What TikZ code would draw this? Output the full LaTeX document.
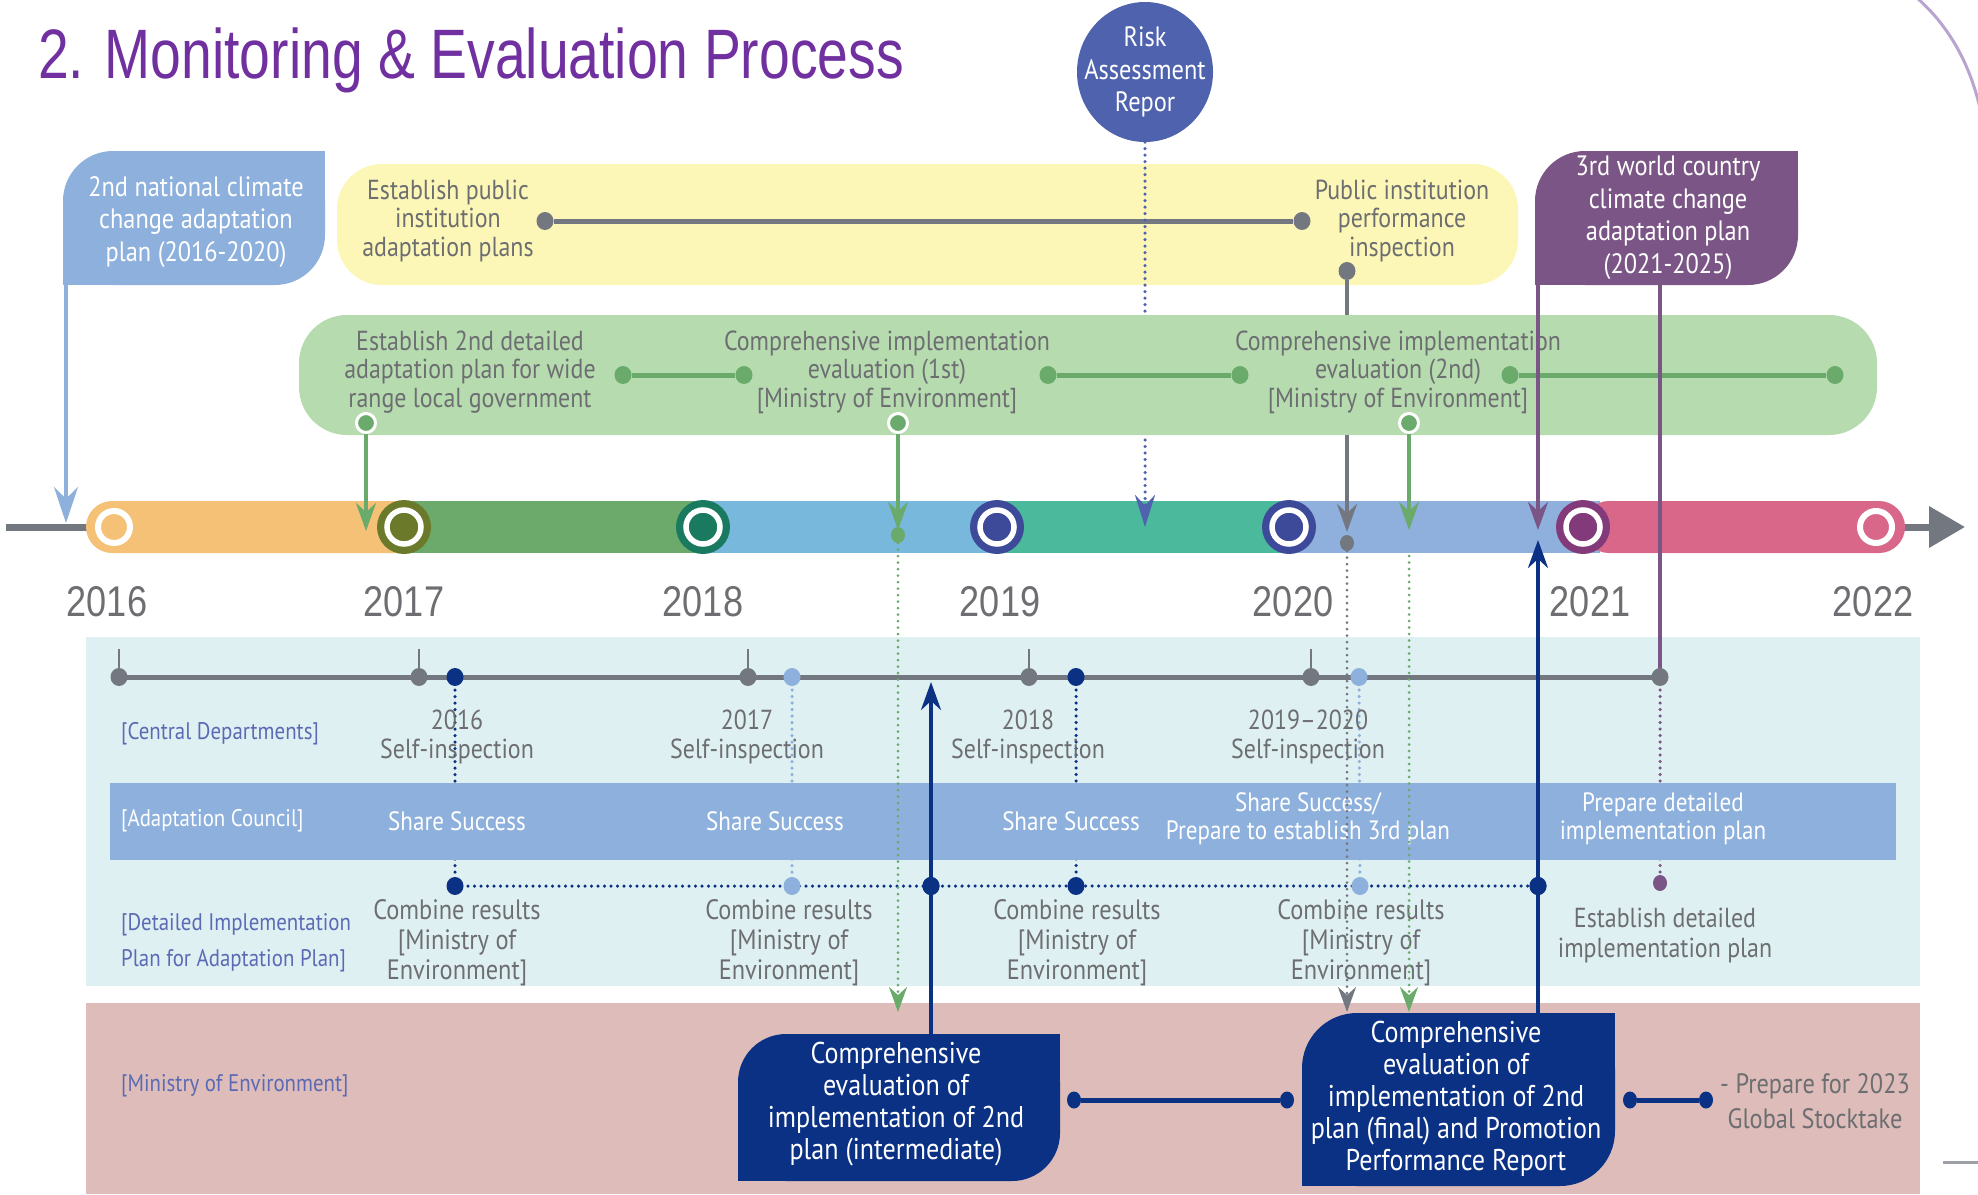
\documentclass[tikz,border=0pt]{standalone}
\usepackage{fontspec}
\setmainfont[FakeStretch=0.87]{PT Sans}
\newfontfamily\titlefont[FakeStretch=0.79]{Liberation Sans}
\newfontfamily\yearfont[FakeStretch=0.84]{Liberation Sans}
\usetikzlibrary{arrows.meta,shapes.geometric,calc}
\definecolor{titlepurple}{RGB}{112,48,160}
\definecolor{tabblue}{RGB}{141,176,220}
\definecolor{yellowbg}{RGB}{252,247,182}
\definecolor{greenbg}{RGB}{182,219,175}
\definecolor{greenline}{RGB}{106,170,106}
\definecolor{graytxt}{RGB}{109,110,113}
\definecolor{grayline}{RGB}{115,120,128}
\definecolor{riskblue}{RGB}{79,98,174}
\definecolor{purpletab}{RGB}{123,85,133}
\definecolor{navy}{RGB}{10,49,132}
\definecolor{lightband}{RGB}{223,240,243}
\definecolor{pinkband}{RGB}{221,188,185}
\definecolor{councilblue}{RGB}{141,176,220}
\definecolor{labelblue}{RGB}{91,106,180}
\definecolor{segorange}{RGB}{245,193,118}
\definecolor{seggreen}{RGB}{107,170,107}
\definecolor{seglblue}{RGB}{120,184,221}
\definecolor{segteal}{RGB}{75,186,156}
\definecolor{segperi}{RGB}{143,176,220}
\definecolor{segpink}{RGB}{217,103,138}
\definecolor{ringolive}{RGB}{107,122,42}
\definecolor{ringteal}{RGB}{26,122,96}
\definecolor{ringnavy}{RGB}{61,74,154}
\definecolor{ringpurple}{RGB}{131,58,122}
\definecolor{arcpurple}{RGB}{185,164,207}
\newcommand{\halfround}[6]{%
  \fill[#1, rounded corners=#6] (#2,#3) rectangle (#4,#5);
  \fill[#1] ({#4-#6},#3) rectangle (#4,{#3+#6});
  \fill[#1] (#2,{#5-#6}) rectangle ({#2+#6},#5);
}
\tikzset{
  body/.style={text=graytxt, align=center, inner sep=0pt, font=\fontsize{27.5}{28.5}\selectfont},
  lab/.style={text=labelblue, align=left, anchor=west, inner sep=0pt, font=\fontsize{24}{36}\selectfont},
  wtxt/.style={text=white, align=center, inner sep=0pt, font=\fontsize{28}{32.5}\selectfont},
  boxtxt/.style={text=white, align=center, inner sep=0pt, font=\fontsize{30}{32}\selectfont},
  counciltxt/.style={text=white, align=center, inner sep=0pt, font=\fontsize{26.5}{28}\selectfont},
  yearlab/.style={text=graytxt, inner sep=0pt, font=\yearfont\fontsize{43}{43}\selectfont},
  gdot/.style={ellipse, fill=#1, minimum width=17pt, minimum height=18pt, inner sep=0pt},
  ringmark/.style={circle, fill=greenline, draw=white, line width=3pt, minimum size=19pt, inner sep=0pt},
  dotline/.style={dash pattern=on 0pt off 6.5pt, line cap=round},
  bigtip/.style={-{Stealth[length=28pt,width=20pt]}},
  smalltip/.style={-{Stealth[length=25pt,width=18pt]}},
}
\begin{document}
\begin{tikzpicture}[x=1pt,y=-1pt]
\useasboundingbox (0,0) rectangle (1978,1194);
% ---------- bands ----------
\fill[lightband] (86,637) rectangle (1920,986);
\fill[pinkband] (86,1003) rectangle (1920,1194);
% coordinates of rows
\coordinate (c1) at (119,677); \coordinate (c2) at (419,677); \coordinate (c3) at (748,677);
\coordinate (c4) at (1029,677); \coordinate (c5) at (1311,677); \coordinate (c6) at (1660,677);
\coordinate (n1) at (455,677); \coordinate (n2) at (1076,677);
\coordinate (l1) at (792,677); \coordinate (l2) at (1359,677);
\coordinate (m1) at (455,886); \coordinate (m2) at (792,886); \coordinate (m3) at (931,886);
\coordinate (m4) at (1076,886); \coordinate (m5) at (1360,886); \coordinate (m6) at (1538,886);
\coordinate (mp) at (1660,883);
% dotted verticals (under council band)
\draw[navy, line width=3.5, dotline] (n1) -- (m1);
\draw[navy, line width=3.5, dotline] (n2) -- (m4);
\draw[tabblue, line width=3.5, dotline] (l1) -- (m2);
\draw[tabblue, line width=3.5, dotline] (l2) -- (m5);
\draw[purpletab, line width=3.5, dotline] (c6) -- (mp);
% council band
\fill[councilblue] (110,783) rectangle (1896,860);
% ---------- title ----------
\node[anchor=base west, inner sep=0pt, text=titlepurple, font=\titlefont\fontsize{70}{70}\selectfont] (title) at (38,78) {2. Monitoring \& Evaluation Process};
\draw[arcpurple, line width=3] (1917,-2) .. controls (1948,25) and (1972,65) .. (1982,118);
\draw[grayline!70, line width=3] (1943,1162) -- (1978,1162);
% ---------- yellow box ----------
\fill[yellowbg, rounded corners=45] (337,164) rectangle (1518,285);
\node[body] (ytxt1) at (448,221) {Establish public\\institution\\adaptation plans};
\node[body] (ytxt2) at (1402,221) {Public institution\\performance\\inspection};
\node[gdot=grayline] (yd1) at (545,221) {};
\node[gdot=grayline] (yd2) at (1302,221) {};
\draw[grayline, line width=5] (yd1) -- (yd2);
\node[gdot=grayline] (yd3) at (1347,271) {};
% ---------- risk ----------
\node[ellipse, fill=riskblue, minimum width=136pt, minimum height=140pt, inner sep=0pt] (risk) at (1145,72) {};
\node[wtxt] (risktxt) at (risk.center) {Risk\\Assessment\\Repor};
\coordinate (rk1) at (1145,318); \coordinate (rk2) at (1145,440); \coordinate (rkTip) at (1145,527);
\draw[riskblue, line width=3.5, dotline] (risk.south) -- (rk1);
\coordinate (gA) at (1347,318); \coordinate (gB) at (1347,435); \coordinate (gTip) at (1347,532);
\draw[grayline, line width=3.5] (yd3) -- (gA);
% ---------- green box ----------
\fill[greenbg, rounded corners=48] (299,315) rectangle (1877,435);
\node[body] (gt1) at (470,372) {Establish 2nd detailed\\adaptation plan for wide\\range local government};
\node[body] (gt2) at (887,372) {Comprehensive implementation\\evaluation (1st)\\{[Ministry of Environment]}};
\node[body] (gt3) at (1398,372) {Comprehensive implementation\\evaluation (2nd)\\{[Ministry of Environment]}};
\node[gdot=greenline] (gl1) at (623,375) {}; \node[gdot=greenline] (gl2) at (744,375) {};
\node[gdot=greenline] (gl3) at (1048,375) {}; \node[gdot=greenline] (gl4) at (1240,375) {};
\node[gdot=greenline] (gl5) at (1510,375) {}; \node[gdot=greenline] (gl6) at (1835,375) {};
\draw[greenline, line width=5] (gl1) -- (gl2);
\draw[greenline, line width=5] (gl3) -- (gl4);
\draw[greenline, line width=5] (gl5) -- (gl6);
\node[ringmark] (gm1) at (366,423) {};
\node[ringmark] (gm2) at (898,423) {};
\node[ringmark] (gm3) at (1409,423) {};
% ---------- tabs ----------
\halfround{tabblue}{63}{151}{325}{285}{50}
\node[wtxt] (tab1) at (196,222) {2nd national climate\\change adaptation\\plan (2016-2020)};
\halfround{purpletab}{1535}{151}{1798}{285}{50}
\node[wtxt] (tab2) at (1668,218) {3rd world country\\climate change\\adaptation plan\\(2021-2025)};
% ---------- timeline ----------
\coordinate (tl0) at (6,527); \coordinate (tlS) at (88,527);
\coordinate (tlE) at (1900,527); \coordinate (tlA) at (1965,527);
\draw[grayline, line width=7] (tl0) -- (tlS);
\draw[grayline, line width=7, -{Triangle[length=36pt,width=40pt]}] (tlE) -- (tlA);
\fill[segorange, rounded corners=26] (86,501) rectangle (440,553);
\fill[seggreen] (404,501) rectangle (720,553);
\fill[seglblue] (703,501) rectangle (1010,553);
\fill[segteal] (997,501) rectangle (1300,553);
\fill[segperi] (1289,501) rectangle (1600,553);
\fill[segpink, rounded corners=26] (1583,501) rectangle (1905,553);
\draw[white, line width=6] (114,527) circle (16);
\draw[white, line width=6] (1876,527) circle (16);
\foreach \xx/\cc in {404/ringolive, 703/ringteal, 997/ringnavy, 1289/ringnavy, 1583/ringpurple}{
  \fill[\cc] (\xx,527) circle (27);
  \draw[white, line width=5.5, fill=\cc] (\xx,527) circle (17);
}
\node[yearlab] (y16) at (107,602) {2016};
\node[yearlab] (y17) at (404,602) {2017};
\node[yearlab] (y18) at (703,602) {2018};
\node[yearlab] (y19) at (1000,602) {2019};
\node[yearlab] (y20) at (1293,602) {2020};
\node[yearlab] (y21) at (1590,602) {2021};
\node[yearlab] (y22) at (1873,602) {2022};
% ---------- arrows onto timeline ----------
\coordinate (bt) at (66,285); \coordinate (btTip) at (66,523);
\draw[tabblue, line width=4, -{Stealth[length=36pt,width=24pt]}] (bt) -- (btTip);
\draw[riskblue, line width=3.5, dotline, -{Stealth[length=32pt,width=20pt]}] (rk2) -- (rkTip);
\draw[grayline, line width=3.5, bigtip] (gB) -- (gTip);
\coordinate (gt1tip) at (366,531); \coordinate (gt2tip) at (898,530); \coordinate (gt3tip) at (1409,530);
\draw[greenline, line width=3.5, bigtip] (gm1) -- (gt1tip);
\draw[greenline, line width=3.5, bigtip] (gm2) -- (gt2tip);
\draw[greenline, line width=3.5, bigtip] (gm3) -- (gt3tip);
\coordinate (pt1) at (1538,285); \coordinate (ptTip) at (1538,530); \coordinate (pt2) at (1660,285);
\draw[purpletab, line width=3.5, bigtip] (pt1) -- (ptTip);
\draw[purpletab, line width=3.5] (pt2) -- (c6);
\node[gdot=greenline, minimum width=14pt, minimum height=16pt] (gon) at (898,535) {};
\node[gdot=grayline, minimum width=14pt, minimum height=16pt] (gyon) at (1347,543) {};
\coordinate (gs3) at (1409,556);
% ---------- central departments ----------
\foreach \k in {1,...,5}{\draw[grayline, line width=2.5] ($(c\k)+(0,-28)$) -- (c\k);}
\draw[grayline, line width=5] (c1) -- (c6);
\foreach \k in {1,...,6}{\node[gdot=grayline] (cd\k) at (c\k) {};}
\node[gdot=navy] (nd1) at (n1) {}; \node[gdot=navy] (nd2) at (n2) {};
\node[gdot=tabblue] (ld1) at (l1) {}; \node[gdot=tabblue] (ld2) at (l2) {};
\node[lab] (labCD) at (121,734) {[Central Departments]};
\node[body, font=\fontsize{27.5}{29}\selectfont] (si1) at (457,737) {2016\\Self-inspection};
\node[body, font=\fontsize{27.5}{29}\selectfont] (si2) at (747,737) {2017\\Self-inspection};
\node[body, font=\fontsize{27.5}{29}\selectfont] (si3) at (1028,737) {2018\\Self-inspection};
\node[body, font=\fontsize{27.5}{29}\selectfont] (si4) at (1308,737) {2019--2020\\Self-inspection};
% ---------- council ----------
\node[lab, text=white] (labAC) at (121,821) {[Adaptation Council]};
\node[counciltxt] (ss1) at (457,821) {Share Success};
\node[counciltxt] (ss2) at (775,821) {Share Success};
\node[counciltxt] (ss3) at (1071,821) {Share Success};
\node[counciltxt] (ss4) at (1308,819) {Share Success/\\Prepare to establish 3rd plan};
\node[counciltxt] (ss5) at (1663,819) {Prepare detailed\\implementation plan};
% ---------- combine row ----------
\draw[navy, line width=3.5, dotline] (m1) -- (m6);
\node[gdot=navy] (md1) at (m1) {}; \node[gdot=tabblue] (md2) at (m2) {};
\node[gdot=navy] (md3) at (m3) {}; \node[gdot=navy] (md4) at (m4) {};
\node[gdot=tabblue] (md5) at (m5) {}; \node[gdot=navy] (md6) at (m6) {};
\node[gdot=purpletab, minimum width=14pt, minimum height=16pt] (mdp) at (mp) {};
\node[body, font=\fontsize{28}{30}\selectfont] (cr1) at (457,943) {Combine results\\{[Ministry of}\\Environment]};
\node[body, font=\fontsize{28}{30}\selectfont] (cr2) at (789,943) {Combine results\\{[Ministry of}\\Environment]};
\node[body, font=\fontsize{28}{30}\selectfont] (cr3) at (1077,943) {Combine results\\{[Ministry of}\\Environment]};
\node[body, font=\fontsize{28}{30}\selectfont] (cr4) at (1361,943) {Combine results\\{[Ministry of}\\Environment]};
\node[body, font=\fontsize{27.5}{30}\selectfont] (ed) at (1665,936) {Establish detailed\\implementation plan};
\node[lab] (labDI) at (121,943) {[Detailed Implementation\\Plan for Adaptation Plan]};
% ---------- dotted into ministry band ----------
\coordinate (gd1) at (898,1012); \coordinate (gd2) at (1347,1012); \coordinate (gd3) at (1409,1012);
\draw[greenline, line width=3, dotline, smalltip] (gon) -- (gd1);
\draw[grayline, line width=3, dotline, smalltip] (gyon) -- (gd2);
\draw[greenline, line width=3, dotline, smalltip] (gs3) -- (gd3);
% ---------- ministry band ----------
\node[lab] (labME) at (121,1086) {[Ministry of Environment]};
\halfround{navy}{738}{1034}{1060}{1181}{48}
\node[boxtxt] (box1) at (896,1104) {Comprehensive\\evaluation of\\implementation of 2nd\\plan (intermediate)};
\halfround{navy}{1302}{1013}{1615}{1186}{55}
\node[boxtxt] (box2) at (1456,1099) {Comprehensive\\evaluation of\\implementation of 2nd\\plan (final) and Promotion\\Performance Report};
\coordinate (b1top) at (931,1034); \coordinate (b1tip) at (931,682);
\coordinate (b2top) at (1538,1013); \coordinate (b2tip) at (1538,540);
\draw[navy, line width=4, bigtip] (b1top) -- (b1tip);
\draw[navy, line width=4, bigtip] (b2top) -- (b2tip);
\node[gdot=navy] (md3b) at (m3) {}; \node[gdot=navy] (md6b) at (m6) {};
\node[gdot=navy, minimum width=14pt, minimum height=17pt] (pk1) at (1074,1100) {};
\node[gdot=navy, minimum width=14pt, minimum height=17pt] (pk2) at (1287,1100) {};
\node[gdot=navy, minimum width=14pt, minimum height=17pt] (pk3) at (1630,1100) {};
\node[gdot=navy, minimum width=14pt, minimum height=17pt] (pk4) at (1706,1100) {};
\draw[navy, line width=5] (pk1) -- (pk2);
\draw[navy, line width=5] (pk3) -- (pk4);
\node[body, font=\fontsize{28}{35}\selectfont] (gst) at (1815,1101) {- Prepare for 2023\\Global Stocktake};
\end{tikzpicture}
\end{document}
